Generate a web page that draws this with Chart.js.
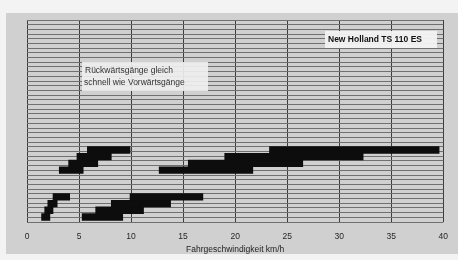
<!DOCTYPE html>
<html>
<head>
<meta charset="utf-8">
<script src="https://cdn.jsdelivr.net/npm/chart.js@4.4.1/dist/chart.umd.min.js"></script>
<style>
body { margin: 0; background: #f3f3f3; }
</style>
</head>
<body>
<canvas id="gaenge" width="458" height="260"></canvas>
<script>
// Fahrbereiche der Gänge in km/h (von / bis), Zeilen von unten gezählt
const zeilenUnten = [0, 1, 2, 3];
const zeilenOben = [7, 8, 9, 10];
const gruppeA = [[1.4, 2.2], [1.7, 2.5], [2.0, 2.9], [2.5, 4.1]];
const gruppeB = [[5.3, 9.2], [6.6, 11.2], [8.1, 13.8], [9.9, 16.9]];
const gruppeC = [[3.1, 5.4], [4.0, 6.8], [4.8, 8.1], [5.8, 9.9]];
const gruppeD = [[12.7, 21.7], [15.5, 26.5], [19.0, 32.3], [23.3, 39.6]];
const xMin = 0, xMax = 40, xSchritt = 5;
const xTitel = 'Fahrgeschwindigkeit km/h';
const hinweis = ['Rückwärtsgänge gleich', 'schnell wie Vorwärtsgänge'];
const modell = 'New Holland TS 110 ES';

const schwarz = '#0d0d0d';

function balken(bereiche, zeilen) {
    return bereiche.map(function (b, i) { return { x: b, y: zeilen[i] }; });
}

// grauer Hintergrund wie im Scan
const hintergrund = {
    id: 'hintergrund',
    beforeDraw: function (chart) {
        const c = chart.ctx;
        c.save();
        c.fillStyle = '#f3f3f3';
        c.fillRect(0, 0, chart.width, chart.height);
        c.fillStyle = '#d0d0d0';
        c.fillRect(6, 13, chart.width - 6, 241);
        c.restore();
    }
};

// die zwei Textkästen im Diagramm
const texte = {
    id: 'texte',
    afterDraw: function (chart) {
        const c = chart.ctx;
        c.save();
        c.fillStyle = 'rgba(238,238,238,0.92)';
        c.fillRect(82, 62, 126, 29);
        c.fillStyle = '#333';
        c.font = '8.5px "Liberation Sans", Arial, sans-serif';
        c.textBaseline = 'middle';
        c.fillText(hinweis[0], 85, 71);
        c.fillText(hinweis[1], 84, 83);

        c.fillStyle = 'rgba(242,242,242,0.95)';
        c.fillRect(325, 31, 112, 17);
        c.fillStyle = '#111';
        c.font = 'bold 8.5px "Liberation Sans", Arial, sans-serif';
        c.fillText(modell, 328, 40);
        c.restore();
    }
};

const ctx = document.getElementById('gaenge').getContext('2d');
const chart = new Chart(ctx, {
    type: 'bar',
    data: {
        datasets: [
            { label: 'A', data: balken(gruppeA, zeilenUnten), backgroundColor: schwarz },
            { label: 'B', data: balken(gruppeB, zeilenUnten), backgroundColor: schwarz },
            { label: 'C', data: balken(gruppeC, zeilenOben), backgroundColor: schwarz },
            { label: 'D', data: balken(gruppeD, zeilenOben), backgroundColor: schwarz }
        ]
    },
    options: {
        indexAxis: 'y',
        responsive: false,
        animation: false,
        devicePixelRatio: 1,
        layout: { padding: { left: 27, right: 11, top: 20, bottom: 0 } },
        datasets: {
            bar: {
                grouped: false,
                barPercentage: 1,
                categoryPercentage: 1,
                borderWidth: 0,
                borderSkipped: false
            }
        },
        plugins: {
            legend: { display: false },
            tooltip: { enabled: false }
        },
        scales: {
            x: {
                type: 'linear',
                min: xMin,
                max: xMax,
                ticks: {
                    stepSize: xSchritt,
                    padding: 10,
                    color: '#262626',
                    font: { family: '"Liberation Sans", Arial, sans-serif', size: 8.5 }
                },
                grid: { color: '#3c3c3c', lineWidth: 1, drawTicks: false },
                border: { display: false },
                title: {
                    display: true,
                    text: xTitel,
                    color: '#222',
                    padding: { top: 0, bottom: 5 },
                    font: { family: '"Liberation Sans", Arial, sans-serif', size: 8.5 }
                },
                afterFit: function (s) { s.height = 38; }
            },
            y: {
                type: 'linear',
                display: false,
                offset: false,
                min: -0.75,
                max: 29.4,
                ticks: { stepSize: 1 },
                afterBuildTicks: function (s) {
                    s.ticks = s.ticks.filter(function (t) { return Number.isInteger(t.value); });
                }
            },
            y2: {
                type: 'linear',
                position: 'left',
                min: 0,
                max: 42,
                ticks: { display: false, stepSize: 1 },
                grid: { color: '#707070', lineWidth: 1, drawTicks: false },
                border: { display: false },
                afterFit: function (s) { s.width = 0; }
            }
        }
    },
    plugins: [hintergrund, texte]
});
</script>
</body>
</html>
